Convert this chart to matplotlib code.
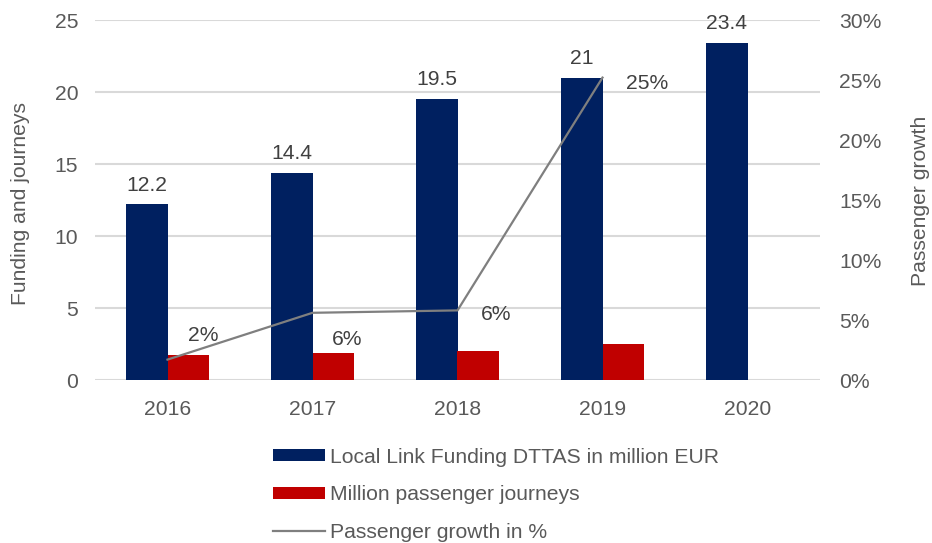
import matplotlib
matplotlib.use("Agg")
import matplotlib.pyplot as plt
import numpy as np

years = ["2016", "2017", "2018", "2019", "2020"]
funding = [12.2, 14.4, 19.5, 21.0, 23.4]
journeys = [1.75, 1.87, 1.99, 2.5, np.nan]
growth = [1.7, 5.6, 5.8, 25.2]           # percent, 2016-2019
growth_labels = ["2%", "6%", "6%", "25%"]
funding_labels = ["12.2", "14.4", "19.5", "21", "23.4"]

plt.rcParams['font.family'] = ['Liberation Sans', 'DejaVu Sans']
FS = 15.2
TXT = '#595959'
LBL = '#404040'
NAVY = '#002060'
RED = '#C00000'
LINE = '#7F7F7F'
GRID = '#D9D9D9'

fig = plt.figure(figsize=(9.32, 5.43), dpi=100)
ax = fig.add_axes([95/932, 1 - 380/543, (820-95)/932, (380-20)/543])
ax2 = ax.twinx()

x = np.arange(len(years))
w = 0.286
b1 = ax.bar(x - w/2, funding, w, color=NAVY, label='Local Link Funding DTTAS in million EUR', zorder=2)
b2 = ax.bar(x + w/2, journeys, w, color=RED, label='Million passenger journeys', zorder=2)
ln, = ax2.plot(x[:len(growth)], growth, color=LINE, lw=1.6, label='Passenger growth in %', zorder=3)

ax.set_xlim(-0.5, len(years) - 0.5)
ax.set_ylim(0, 25)
ax.set_yticks([0, 5, 10, 15, 20, 25])
ax2.set_ylim(0, 30)
ax2.set_yticks([0, 5, 10, 15, 20, 25, 30])
ax2.set_yticklabels([f"{v}%" for v in [0, 5, 10, 15, 20, 25, 30]])
ax.set_xticks(x)
ax.set_xticklabels(years)

ax.yaxis.grid(True, color=GRID, lw=1.5, zorder=0)
ax.set_axisbelow(True)
for a in (ax, ax2):
    for s in a.spines.values():
        s.set_visible(False)
    a.tick_params(length=0, labelsize=FS, labelcolor=TXT)
ax.tick_params(axis='y', pad=12)
ax.tick_params(axis='x', pad=14.5)
ax2.tick_params(axis='y', pad=14)

ax.set_ylabel('Funding and journeys', fontsize=FS, color=TXT)
ax2.set_ylabel('Passenger growth', fontsize=FS, color=TXT)
ax.yaxis.set_label_coords(-0.09, 0.49)
ax2.yaxis.set_label_coords(1.1255, 0.497)

for xi, v, t in zip(x, funding, funding_labels):
    ax.annotate(t, (xi - w/2, v), xytext=(0, 7), textcoords='offset points',
                ha='center', va='bottom', fontsize=FS, color=LBL)

offsets = [(26, 17), (25, -19), (28, -3), (32, -4)]
for xi, v, t, off in zip(x, growth, growth_labels, offsets):
    ax2.annotate(t, (xi, v), xytext=off, textcoords='offset points',
                 ha='center', va='center', fontsize=FS, color=LBL)

fig.legend(handles=[b1, b2, ln], loc='center', bbox_to_anchor=(0.532, 0.089),
           frameon=False, fontsize=FS, labelcolor=TXT, handlelength=2.45,
           handleheight=0.5, handletextpad=0.25, labelspacing=0.88)

fig.savefig('out.png', dpi=100)
